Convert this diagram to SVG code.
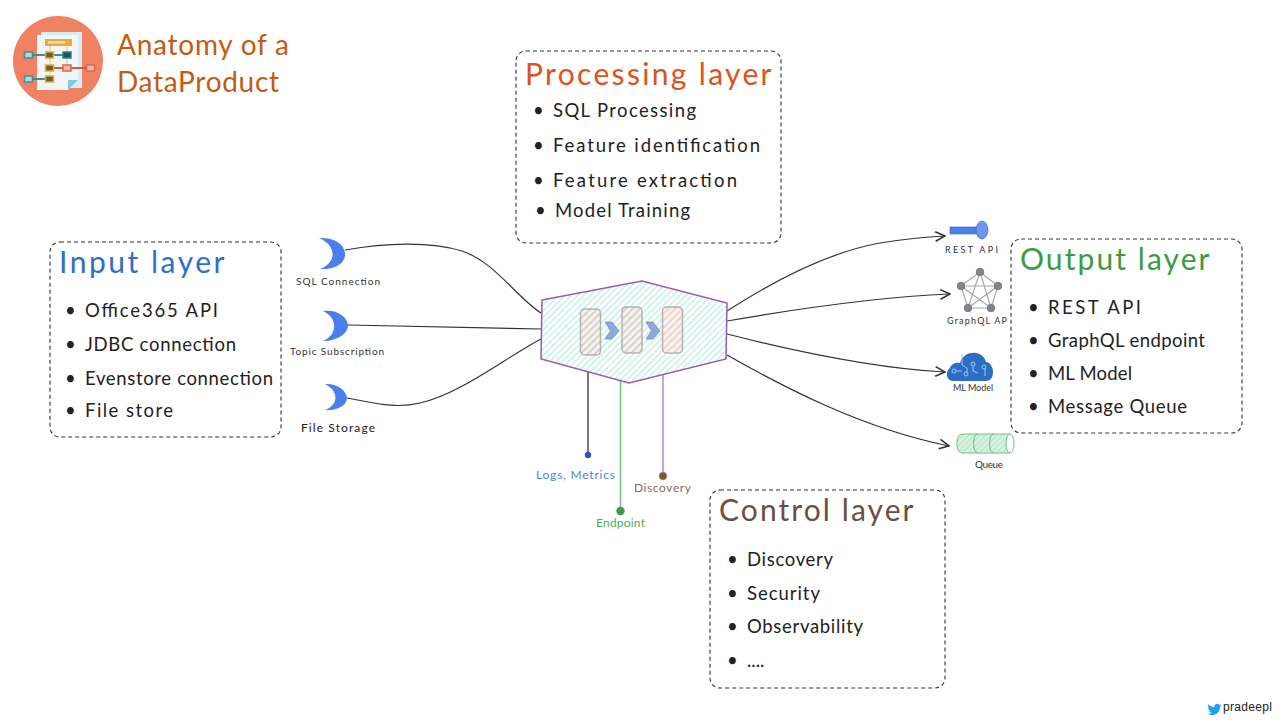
<svg xmlns="http://www.w3.org/2000/svg" width="1280" height="720" viewBox="0 0 1280 720">
<style>
text{font-family:"Lato","Noto Sans","Liberation Sans",sans-serif;fill:#222}
.box{fill:#fff;stroke:#333;stroke-width:1.1;stroke-dasharray:4 3}
.h{font-size:30px;letter-spacing:.5px}
.li{font-size:18.5px}
.sm{font-size:10px;fill:#333}
.lb{font-size:12px}
.c{fill:none;stroke:#333;stroke-width:1.2}
.moon{fill:#4a7fee}
.cell{stroke:#b3b3b3;stroke-width:1.5;rx:4px}
.g{stroke:#a8a8a8;stroke-width:1.2}
.n{fill:#7f858d;stroke:#666b73;stroke-width:.7}
.pipe{stroke:#6fbf8b;stroke-width:1}
.ic{fill:none;stroke:#8fd3ef;stroke-width:1}
.chev{fill:#8ea9db;stroke:#6f86b8;stroke-width:.7}
.t{font-size:28px;font-family:"Lato","Open Sans",sans-serif;fill:#c55a11}
</style>
<defs>
<pattern id="hT" width="4.500" height="4.500" patternUnits="userSpaceOnUse" patternTransform="rotate(45)"><rect width="4.500" height="4.500" fill="#fff"/><rect width="1.800" height="4.500" fill="#cdf3ea"/></pattern>
<pattern id="hG" width="5" height="5" patternUnits="userSpaceOnUse" patternTransform="rotate(45)"><rect width="5" height="5" fill="#f3f3f0"/><rect width="1.600" height="5" fill="#d6c9c2"/></pattern>
<pattern id="hR" width="5" height="5" patternUnits="userSpaceOnUse" patternTransform="rotate(45)"><rect width="5" height="5" fill="#f5f4f2"/><rect width="1.600" height="5" fill="#f6c9c4"/></pattern>
<pattern id="hQ" width="4" height="4" patternUnits="userSpaceOnUse" patternTransform="rotate(45)"><rect width="4" height="4" fill="#d9f3e0"/><rect width="1.400" height="4" fill="#b9e6c8"/></pattern>
<marker id="a" viewBox="0 0 10 10" refX="9" refY="5" markerWidth="12" markerHeight="12" markerUnits="userSpaceOnUse" orient="auto"><path d="M1 1L9 5L1 9" fill="none" stroke="#333" stroke-width="1.300"/></marker>
</defs>
<rect width="1280" height="720" fill="#fff"/>

<g id="connectors">
<path class="c" d="M345 250C385 243 430 241 462 251C495 262 515 296 541 313"/>
<path class="c" d="M348 325L541 329"/>
<path class="c" d="M347 398C375 403 395 409 420 403C460 394 505 358 541 339"/>
<path class="c" marker-end="url(#a)" d="M727 311C775 280 830 252 880 243C905 239 925 237 945 236"/>
<path class="c" marker-end="url(#a)" d="M727 321C790 310 880 297 950 294"/>
<path class="c" marker-end="url(#a)" d="M727 334C790 350 870 368 945 372"/>
<path class="c" marker-end="url(#a)" d="M727 355C780 385 860 428 949 446"/>
<path fill="none" stroke="#555" stroke-width="1.600" d="M588 372V455"/>
<path fill="none" stroke="#7cc383" stroke-width="1.600" d="M620.500 380V511"/>
<path fill="none" stroke="#c08bd6" stroke-width="1.600" d="M663 372V476"/>
</g>

<g id="title">
<circle cx="58" cy="61" r="45" fill="#f08163"/>
<path d="M41 32H82V88H41Z" fill="#d4eef5"/>
<path d="M37 35H78V78L68 90H37Z" fill="#f2f5f6"/>
<path d="M68 90L78 80H68Z" fill="#7fcbe3"/>
<rect x="45" y="39" width="27" height="7" fill="#e5ad3c"/>
<rect x="48" y="41" width="17" height="2.500" fill="#f6dda5"/>
<path d="M50 46V80M67 46V68" stroke="#f4d58e" stroke-width="1.500" fill="none"/>
<path d="M28 55H68M28 79H50" stroke="#3f8e96" stroke-width="1.800" fill="none"/>
<path d="M50 68H92" stroke="#c9603f" stroke-width="1.800" fill="none"/>
<rect x="24.500" y="52" width="8" height="6" fill="#b4d6d8" stroke="#3f8e96" stroke-width="1.500"/>
<rect x="24.500" y="76" width="8" height="6" fill="#b4d6d8" stroke="#3f8e96" stroke-width="1.500"/>
<rect x="45.500" y="52" width="8" height="6" fill="#6b5a36" stroke="#e5ad3c" stroke-width="1.500"/>
<rect x="45.500" y="65" width="8" height="6" fill="#6b5a36" stroke="#e5ad3c" stroke-width="1.500"/>
<rect x="45.500" y="76" width="8" height="6" fill="#6b5a36" stroke="#e5ad3c" stroke-width="1.500"/>
<rect x="63" y="52" width="8" height="6" fill="#1f535d" stroke="#2f7f8a" stroke-width="1.500"/>
<rect x="63" y="65" width="8" height="6" fill="#edb9a6" stroke="#d9694a" stroke-width="1.500"/>
<rect x="86.500" y="65" width="8" height="6" fill="#edb9a6" stroke="#d9694a" stroke-width="1.500"/>
<text class="t" x="117" y="55" textLength="172">Anatomy of a</text>
<text class="t" x="117" y="92" textLength="162">DataProduct</text>
</g>

<g id="processing-layer">
<rect class="box" x="516" y="51" width="265" height="192" rx="10"/>
<text class="h" x="525" y="85" style="fill:#d9541e" textLength="247">Processing layer</text>
<text class="li" x="533" y="117">•</text><text class="li" x="553" y="117" textLength="143">SQL Processing</text>
<text class="li" x="533" y="152">•</text><text class="li" x="553" y="152" textLength="207">Feature identification</text>
<text class="li" x="533" y="187">•</text><text class="li" x="553" y="187" textLength="184">Feature extraction</text>
<text class="li" x="535" y="217">•</text><text class="li" x="555" y="217" textLength="135">Model Training</text>
</g>

<g id="input-layer">
<rect class="box" x="50" y="242" width="231" height="195" rx="10"/>
<text class="h" x="59" y="273" style="fill:#2f6fc4" textLength="166">Input layer</text>
<text class="li" x="65" y="317">•</text><text class="li" x="85" y="317" textLength="133">Office365 API</text>
<text class="li" x="65" y="351">•</text><text class="li" x="85" y="351" textLength="151">JDBC connection</text>
<text class="li" x="65" y="385">•</text><text class="li" x="85" y="385" textLength="188">Evenstore connection</text>
<text class="li" x="65" y="417">•</text><text class="li" x="85" y="417" textLength="88">File store</text>
</g>

<g id="output-layer">
<rect class="box" x="1011" y="239" width="231" height="194" rx="10"/>
<text class="h" x="1020" y="270" style="fill:#3d9a44" textLength="190">Output layer</text>
<text class="li" x="1028" y="314">•</text><text class="li" x="1048" y="314" textLength="93">REST API</text>
<text class="li" x="1028" y="347">•</text><text class="li" x="1048" y="347" textLength="157">GraphQL endpoint</text>
<text class="li" x="1028" y="380">•</text><text class="li" x="1048" y="380" textLength="84">ML Model</text>
<text class="li" x="1028" y="413">•</text><text class="li" x="1048" y="413" textLength="139">Message Queue</text>
</g>

<g id="control-layer">
<rect class="box" x="710" y="490" width="235" height="198" rx="10"/>
<text class="h" x="719" y="521" style="fill:#6b4f45" textLength="195">Control layer</text>
<text class="li" x="727" y="566">•</text><text class="li" x="747" y="566" textLength="86">Discovery</text>
<text class="li" x="727" y="600">•</text><text class="li" x="747" y="600" textLength="73">Security</text>
<text class="li" x="727" y="633">•</text><text class="li" x="747" y="633" textLength="116">Observability</text>
<text class="li" x="727" y="667">•</text><text class="li" x="747" y="667">....</text>
</g>

<g id="data-product">
<path d="M542 300L642 281L727 303L726 359L629 383L541 359Z" fill="url(#hT)" stroke="#9b59b6" stroke-width="1.500"/>
<rect class="cell" x="580.500" y="309" width="20" height="46" fill="url(#hG)"/>
<rect class="cell" x="622" y="307" width="20" height="46" fill="url(#hG)"/>
<rect class="cell" x="662.500" y="307" width="20" height="46" fill="url(#hR)"/>
<path class="chev" d="M605 322H612L619 331L612 339H605L610.500 331Z"/>
<path class="chev" d="M646 322H653L660 331L653 339H646L651.500 331Z"/>
</g>

<g id="sql-connection">
<path class="moon" d="M319 238C332 237 344 243 345 253C346 264 333 270 320 269C337 262 337 246 319 238Z"/>
<text class="sm" x="296" y="285" textLength="84">SQL Connection</text>
</g>
<g id="topic-subscription">
<path class="moon" d="M323 311C336 309 347 316 348 325C348 335 335 341 323 341C338 335 338 318 323 311Z"/>
<text class="sm" x="290" y="355" textLength="94">Topic Subscription</text>
</g>
<g id="file-storage">
<path class="moon" d="M325 384C337 383 346 390 347 398C347 406 336 411 325 410C339 405 339 391 325 384Z"/>
<text class="lb" x="301" y="432" textLength="74">File Storage</text>
</g>

<g id="rest-api">
<rect x="950" y="227" width="28" height="7" fill="#4a7fee" stroke="#3a62b0" stroke-width=".6"/>
<ellipse cx="982" cy="230" rx="6" ry="9" fill="#6b97ee" stroke="#3a62b0" stroke-width=".6"/>
<text class="sm" x="945" y="253" textLength="53" style="font-size:9px">REST API</text>
</g>
<g id="graphql-api">
<path class="g" fill="none" d="M980 272L998 286L991 308L968 308L961 286ZM980 272L991 308L961 286H998L968 308Z"/>
<circle class="n" cx="980" cy="272" r="3.800"/>
<circle class="n" cx="998" cy="286" r="3.800"/>
<circle class="n" cx="991" cy="308" r="3.800"/>
<circle class="n" cx="968" cy="308" r="3.800"/>
<circle class="n" cx="961" cy="286" r="3.800"/>
<text class="sm" x="947" y="324" textLength="60" style="font-size:9px">GraphQL AP</text>
</g>
<g id="ml-model">
<path d="M953 381C946 381 945 371 950 368C951 364 956 362 960 363C962 355 970 352 976 353C982 354 985 358 986 362C990 362 993 367 993 372C993 378 990 381 986 381Z" fill="#2f6cc4"/>
<path class="ic" d="M962 354V365L967 368V372M956 371H962M973 366V371L978 373M985 369V376"/>
<circle class="ic" cx="954" cy="371" r="2"/><circle class="ic" cx="966" cy="374" r="2"/><circle class="ic" cx="973" cy="364" r="2"/><circle class="ic" cx="984" cy="367" r="2"/>
<text class="sm" x="953" y="391" textLength="40" style="font-size:9px">ML Model</text>
</g>
<g id="queue">
<path class="pipe" style="fill:url(#hQ)" d="M962 434H1010V453H962C955 453 955 434 962 434Z"/>
<path fill="none" stroke="#6fbf8b" stroke-width="1" d="M978 434C972 434 972 453 978 453M994 434C988 434 988 453 994 453"/>
<ellipse cx="1010" cy="443.500" rx="4" ry="9.500" fill="#fff" stroke="#6fbf8b"/>
<text class="sm" x="975" y="468" textLength="28">Queue</text>
</g>

<g id="logs-metrics">
<circle cx="588" cy="455" r="3.200" fill="#2f55c4"/>
<text class="lb" x="536" y="479" style="fill:#4a86d8" textLength="79">Logs, Metrics</text>
</g>
<g id="endpoint">
<circle cx="620.500" cy="511" r="4.200" fill="#3d9a44"/>
<text class="lb" x="596" y="527" style="fill:#4caf50" textLength="49">Endpoint</text>
</g>
<g id="discovery">
<circle cx="663" cy="476" r="3.800" fill="#7b5a14" stroke="#a265c4" stroke-width=".8"/>
<text class="lb" x="634" y="492" style="fill:#8a6a60" textLength="57">Discovery</text>
</g>

<g id="credit">
<path transform="translate(1207.500 702.500) scale(.58)" d="M23.953 4.57a10 10 0 01-2.825.775 4.958 4.958 0 002.163-2.723c-.951.555-2.005.959-3.127 1.184a4.92 4.92 0 00-8.384 4.482C7.69 8.095 4.067 6.13 1.64 3.162a4.822 4.822 0 00-.666 2.475c0 1.71.87 3.213 2.188 4.096a4.904 4.904 0 01-2.228-.616v.06a4.923 4.923 0 003.946 4.827 4.996 4.996 0 01-2.212.085 4.936 4.936 0 004.604 3.417 9.867 9.867 0 01-6.102 2.105c-.39 0-.779-.023-1.17-.067a13.995 13.995 0 007.557 2.209c9.053 0 13.998-7.496 13.998-13.985 0-.21 0-.42-.015-.63A9.935 9.935 0 0024 4.59z" fill="#1da1f2"/>
<text x="1223" y="711" font-size="12" style="font-family:'Liberation Sans',sans-serif;fill:#222" textLength="49">pradeepl</text>
</g>
</svg>
